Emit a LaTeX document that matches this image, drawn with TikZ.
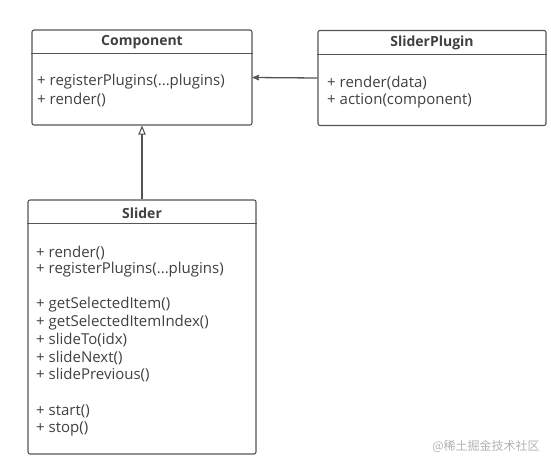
\documentclass[tikz,border=0pt]{standalone}
\usepackage{fontspec}
\setmainfont{Open Sans}
\newfontfamily\cjkfont{Noto Sans CJK SC}
\usetikzlibrary{arrows}
\definecolor{umlline}{HTML}{555555}
\definecolor{umltext}{HTML}{404040}
\newcommand\argdots{...}
\tikzset{
 classbox/.style={draw=umlline, line width=1.1pt, rounded corners=2pt, inner sep=0},
 classname/.style={font=\bfseries\fontsize{14}{16}\selectfont, text=umltext, inner sep=0},
 member/.style={anchor=west, font=\fontsize{15}{17}\selectfont, text=umltext, inner sep=0},
 sepline/.style={draw=umlline, line width=1pt},
}
\begin{document}
\begin{tikzpicture}[x=1pt, y=-1pt]
\useasboundingbox (0,0) rectangle (551,466);
% classes
\node[classbox, minimum width=220pt, minimum height=95pt] (comp) at (142,77.5) {};
\node[classbox, minimum width=228pt, minimum height=95pt] (plugin) at (432,78) {};
\node[classbox, minimum width=228pt, minimum height=254pt] (slider) at (142,327) {};
\draw[sepline] (comp.west |- 0,53) -- (comp.east |- 0,53);
\draw[sepline] (plugin.west |- 0,54) -- (plugin.east |- 0,54);
\draw[sepline] (slider.west |- 0,223) -- (slider.east |- 0,223);
\node[classname] (compname) at (142,42) {Component};
\node[classname] (pluginname) at (432,43) {SliderPlugin};
\node[classname] (slidername) at (142,213) {Slider};
% members
\node[member] (c1) at (37,82) {+ registerPlugins(\argdots plugins)};
\node[member] (c2) at (37,100) {+ render()};
\node[member] (p1) at (327,83) {+ render(data)};
\node[member] (p2) at (327,101) {+ action(component)};
\foreach \y/\t [count=\i] in {253/render(), 270/registerPlugins(\argdots plugins), 305/getSelectedItem(), 323/getSelectedItemIndex(), 340/slideTo(idx), 358/slideNext(), 375/slidePrevious(), 411/start(), 429/stop()} {
 \node[member] (s\i) at (36,\y) {+ \t};
}
% relations
\draw[umlline, line width=1.3pt, ->, >=stealth'] (plugin.west) -- (comp.east);
\draw[umlline, line width=1.1pt, -open triangle 45] (slider.north) -- (comp.south);
\node[font=\cjkfont\fontsize{12}{14}\selectfont, text=black!30, inner sep=0] (mark) at (486,446) {@稀土掘金技术社区};
\end{tikzpicture}
\end{document}
